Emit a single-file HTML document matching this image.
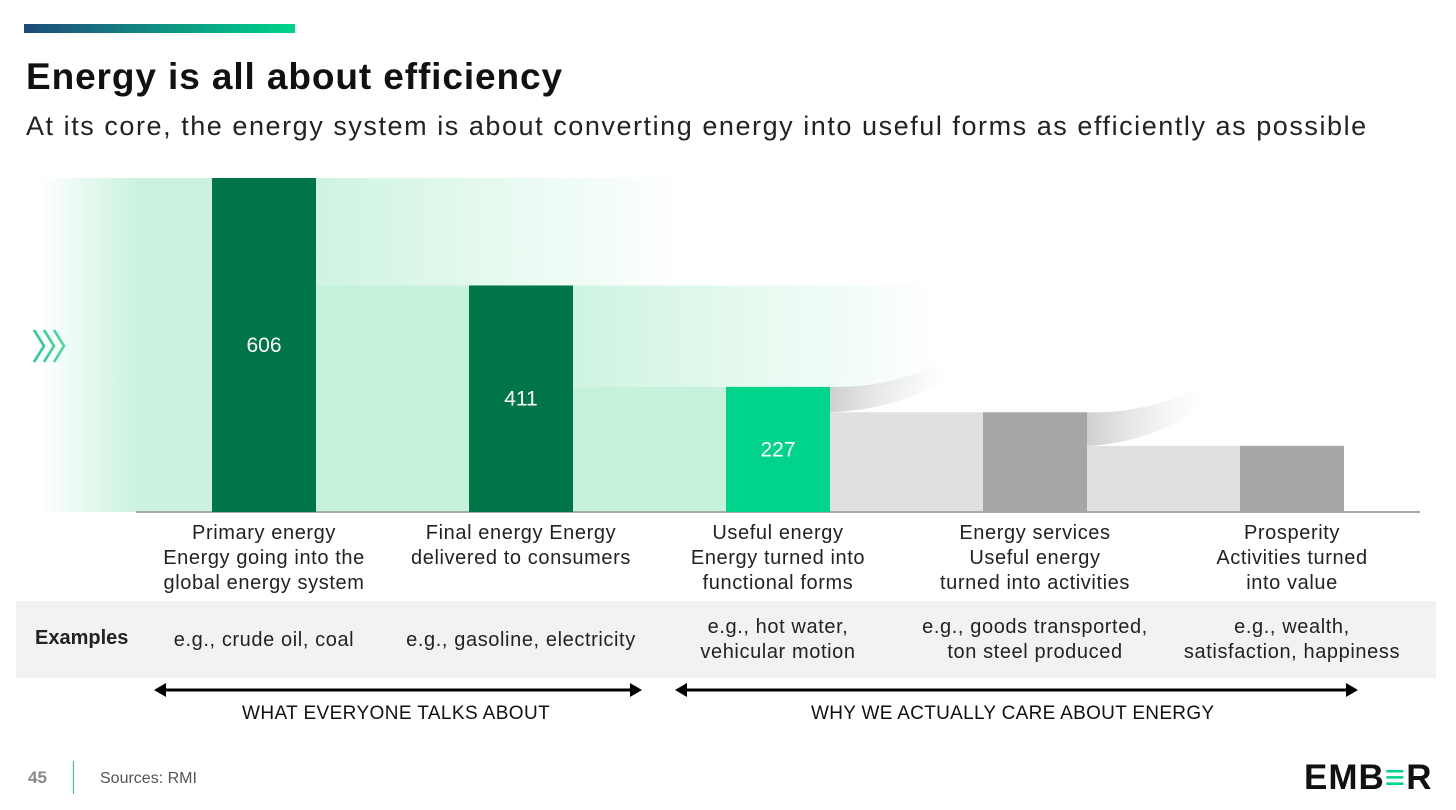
<!DOCTYPE html>
<html><head><meta charset="utf-8"><style>
body{margin:0;width:1456px;height:810px;background:#fff;font-family:"Liberation Sans",sans-serif;overflow:hidden;position:relative}
.a{position:absolute}
.lbl{position:absolute;text-align:center;font-size:20px;color:#222;line-height:25px;width:260px;letter-spacing:0.6px;white-space:nowrap}
</style></head><body>
<div class="a" style="left:24px;top:24px;width:271px;height:9px;background:linear-gradient(90deg,#1e4a7a,#00d48a)"></div>
<div class="a" style="left:26px;top:56px;font-size:37px;font-weight:bold;color:#111;letter-spacing:0.9px">Energy is all about efficiency</div>
<div class="a" style="left:26px;top:111px;font-size:27px;color:#222;letter-spacing:1.55px">At its core, the energy system is about converting energy into useful forms as efficiently as possible</div>
<svg class="a" style="left:30px;top:328px" width="50" height="36">
<g fill="none" stroke="#1fd08a" stroke-width="2.5"><polyline points="4,2 14,18 4,34"/><polyline points="14,2 24,18 14,34"/><polyline points="24,2 34,18 24,34"/></g></svg>
<svg class="a" style="left:0;top:0" width="1456" height="600">
<defs>
<linearGradient id="fl" x1="0" x2="1"><stop offset="0" stop-color="#cbf2df" stop-opacity="0"/><stop offset="1" stop-color="#cbf2df"/></linearGradient>
<linearGradient id="fr" x1="0" x2="1"><stop offset="0" stop-color="#c6f2dc"/><stop offset="1" stop-color="#c6f2dc" stop-opacity="0"/></linearGradient>
<linearGradient id="gr" x1="0" x2="1"><stop offset="0" stop-color="#cfcfcf"/><stop offset="1" stop-color="#e6e6e6" stop-opacity="0"/></linearGradient>
</defs>
<g id="g"></g>
</svg>
<script>
const categories=["Primary energy","Final energy","Useful energy","Energy services","Prosperity"];
const values=[606,411,227,181,120];
const labels=["606","411","227","",""];
const colors=["#007548","#007548","#00d48a","#a6a6a6","#a6a6a6"];
const base=512, scale=334/606, x0=212, step=257, bw=104;
const y=v=>base-v*scale, x=i=>x0+i*step;
const g=document.getElementById('g');const NS="http://www.w3.org/2000/svg";
function mk(t,a,name){const e=document.createElementNS(NS,t);for(const k in a)e.setAttribute(k,a[k]);


g.appendChild(e);return e;}
mk('rect',{x:40,y:y(values[0]),width:96,height:base-y(values[0]),fill:'url(#fl)'},'inflow-fade');
mk('rect',{x:136,y:y(values[0]),width:76,height:base-y(values[0]),fill:'#cbf2df'},'inflow-band');
for(let i=0;i<values.length-1;i++){
  const gx=x(i)+bw, gw=step-bw, grey=i>=2;
  mk('rect',{x:gx,y:y(values[i+1]),width:gw,height:base-y(values[i+1]),fill:grey?'#e0e0e0':'#c6f2dc'},'flow-band-'+i);
  if(!grey){mk('rect',{x:gx,y:y(values[i]),width:370,height:y(values[i+1])-y(values[i]),fill:'url(#fr)',opacity:0.85},'loss-band-'+i);}
  else{const t=y(values[i]),b=y(values[i+1]);
   mk('path',{d:`M${gx} ${t} L${gx+10} ${t} Q${gx+60} ${t} ${gx+115} ${t-25} L${gx+115} ${t-5} Q${gx+60} ${b-2} ${gx} ${b} Z`,fill:'url(#gr)'},'loss-curve-'+i);}
}
mk('line',{x1:136,y1:base,x2:1420,y2:base,stroke:'#aaa','stroke-width':2},'x-axis');
values.forEach((v,i)=>{
  mk('rect',{x:x(i),y:y(v),width:bw,height:base-y(v),fill:colors[i]},'bar-'+categories[i].toLowerCase().replace(' ','-'));
  if(labels[i]){const t=mk('text',{x:x(i)+bw/2,y:(y(v)+base)/2+7,'text-anchor':'middle',fill:'#fff','font-size':21,'font-family':'Liberation Sans'},'bar-value-'+i);t.textContent=labels[i];}
});
</script>
<div class="lbl" style="left:134px;top:521px">Primary energy<br>Energy going into the<br>global energy system</div>
<div class="lbl" style="left:391px;top:521px">Final energy Energy<br>delivered to consumers</div>
<div class="lbl" style="left:648px;top:521px">Useful energy<br>Energy turned into<br>functional forms</div>
<div class="lbl" style="left:905px;top:521px">Energy services<br>Useful energy<br>turned into activities</div>
<div class="lbl" style="left:1162px;top:521px">Prosperity<br>Activities turned<br>into value</div>
<div class="a" style="left:16px;top:601px;width:1420px;height:77px;background:#f2f2f2"></div>
<div class="a" style="left:35px;top:627px;font-size:20px;font-weight:bold;color:#222">Examples</div>
<div class="lbl" style="left:134px;top:628px">e.g., crude oil, coal</div>
<div class="lbl" style="left:391px;top:628px">e.g., gasoline, electricity</div>
<div class="lbl" style="left:648px;top:615px">e.g., hot water,<br>vehicular motion</div>
<div class="lbl" style="left:905px;top:615px">e.g., goods transported,<br>ton steel produced</div>
<div class="lbl" style="left:1162px;top:615px">e.g., wealth,<br>satisfaction, happiness</div>
<svg class="a" style="left:0;top:680px" width="1456" height="20">
<line x1="162" y1="10" x2="634" y2="10" stroke="#000" stroke-width="3"/><path d="M154 10 L166 3 L166 17Z M642 10 L630 3 L630 17Z"/>
<line x1="683" y1="10" x2="1350" y2="10" stroke="#000" stroke-width="3"/><path d="M675 10 L687 3 L687 17Z M1358 10 L1346 3 L1346 17Z"/>
</svg>
<div class="a" style="left:242px;top:703px;font-size:19px;color:#111;letter-spacing:0.4px">WHAT EVERYONE TALKS ABOUT</div>
<div class="a" style="left:811px;top:703px;font-size:19px;color:#111;letter-spacing:0.3px">WHY WE ACTUALLY CARE ABOUT ENERGY</div>
<div class="a" style="left:28px;top:768px;font-size:17px;font-weight:bold;color:#888">45</div>
<div class="a" style="left:73px;top:761px;width:1px;height:33px;background:#1fd08a"></div>
<div class="a" style="left:100px;top:770px;font-size:16px;color:#555">Sources: RMI</div>
<div class="a" style="left:1304px;top:758px;font-size:35px;font-weight:bold;color:#111;letter-spacing:1px">EMB<span style="color:#00d48a">&#x2261;</span>R</div>
</body></html>
